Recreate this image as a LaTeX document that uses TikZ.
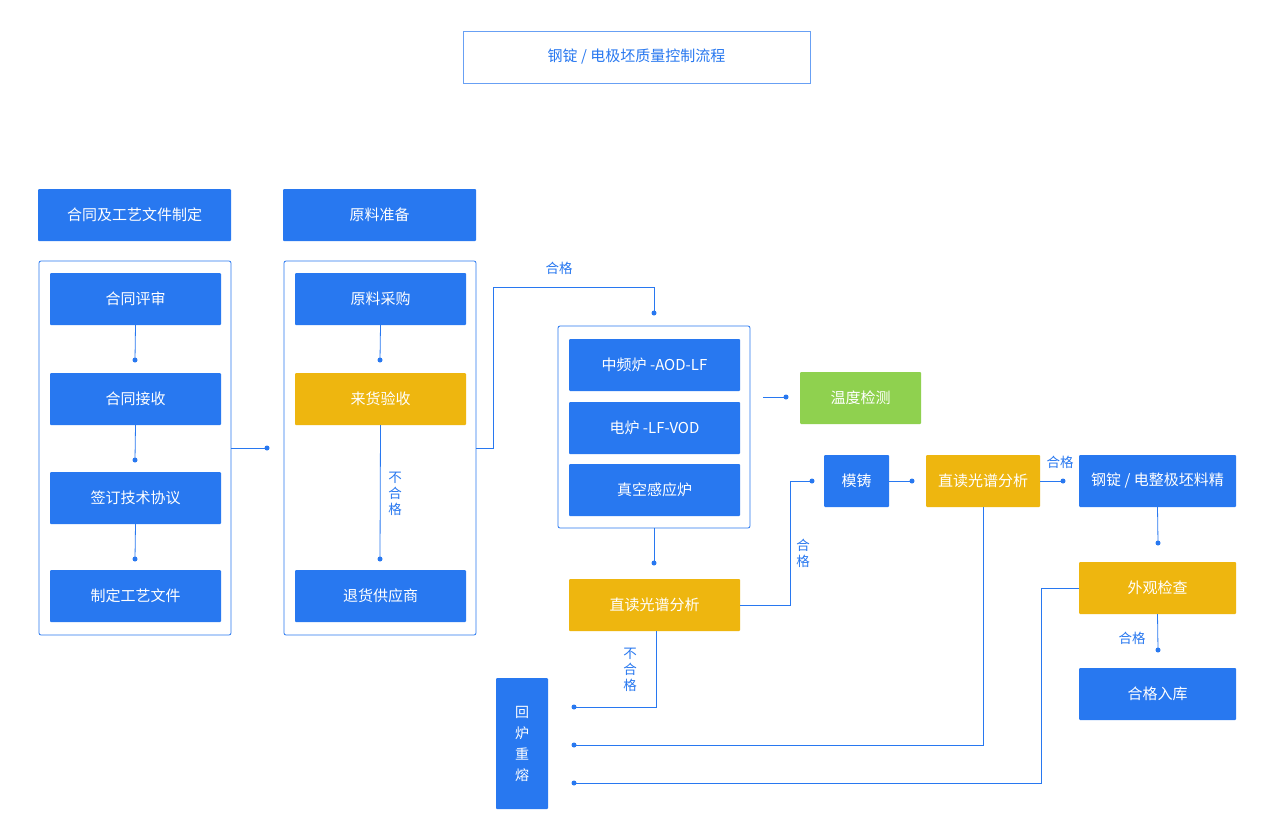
\documentclass[tikz,border=0pt]{standalone}
\usepackage{fontspec}
\setmainfont{Noto Sans CJK SC}
\begin{document}
\definecolor{bb}{HTML}{2878F0}
\definecolor{yy}{HTML}{EEB60F}
\definecolor{gg}{HTML}{8FD14F}
\begin{tikzpicture}[x=1pt,y=-1pt,
  box/.style={draw=none,fill=#1,text=white,font=\fontsize{15}{18}\selectfont,inner sep=0pt,rounded corners=1pt},
  outl/.style={draw=bb,line width=0.8pt,fill=white,rounded corners=2pt},
  ln/.style={draw=bb,line width=0.8pt},
  dot/.style={circle,fill=bb,inner sep=0pt,minimum size=5pt},
  lab/.style={text=bb,font=\fontsize{13.5}{16}\selectfont,align=center,inner sep=0pt}]
\useasboundingbox (0,0) rectangle (1274,833);
\fill[white] (0,0) rectangle (1274,833);
\newcommand{\bx}[6]{\node[box=#2,minimum width=#5-#3,minimum height=#6-#4,align=center] (#1) at ({(#3+#5)/2},{(#4+#6)/2}) {};}
% title
\node[draw=bb!70,line width=0.6pt,minimum width=347,minimum height=52,inner sep=0pt,text=bb,font=\fontsize{15}{18}\selectfont] (title) at (636.5,57) {钢锭 / 电极坯质量控制流程};
% headers
\node[box=bb,minimum width=193,minimum height=52] (h1) at (134.5,215) {合同及工艺文件制定};
\node[box=bb,minimum width=193,minimum height=52] (h2) at (379.5,215) {原料准备};
% outlines
\node[outl,minimum width=192,minimum height=374] (o1) at (135,448) {};
\node[outl,minimum width=192,minimum height=374] (o2) at (380,448) {};
\node[outl,minimum width=192,minimum height=202] (o3) at (654,427) {};
% column 1
\node[box=bb,minimum width=171,minimum height=52] (a1) at (135.5,299) {合同评审};
\node[box=bb,minimum width=171,minimum height=52] (a2) at (135.5,399) {合同接收};
\node[box=bb,minimum width=171,minimum height=52] (a3) at (135.5,498) {签订技术协议};
\node[box=bb,minimum width=171,minimum height=52] (a4) at (135.5,596) {制定工艺文件};
\coordinate (d1) at (135,360); \coordinate (d2) at (135,460); \coordinate (d3) at (135,559);
\draw[ln] (a1.south) -- (d1); \node[dot] at (d1) {};
\draw[ln] (a2.south) -- (d2); \node[dot] at (d2) {};
\draw[ln] (a3.south) -- (d3); \node[dot] at (d3) {};
\coordinate (d4) at (267,448);
\draw[ln] (o1.east) -- (d4); \node[dot] at (d4) {};
% column 2
\node[box=bb,minimum width=171,minimum height=52] (b1) at (380.5,299) {原料采购};
\node[box=yy,minimum width=171,minimum height=52] (b2) at (380.5,399) {来货验收};
\node[box=bb,minimum width=171,minimum height=52] (b3) at (380.5,596) {退货供应商};
\coordinate (e1) at (380,360); \coordinate (e2) at (380,559);
\draw[ln] (b1.south) -- (e1); \node[dot] at (e1) {};
\draw[ln] (b2.south) -- (e2); \node[dot] at (e2) {};
\node[lab] at (395,494) {不\\合\\格};
\coordinate (e3) at (654,313);
\draw[ln] (o2.east) -- (493,448) -- (493,287) -- (654,287) -- (e3); \node[dot] at (e3) {};
\node[lab] at (559,268) {合格};
% column 3
\node[box=bb,minimum width=171,minimum height=52] (c1) at (654.5,365) {中频炉 -AOD-LF};
\node[box=bb,minimum width=171,minimum height=52] (c2) at (654.5,428) {电炉 -LF-VOD};
\node[box=bb,minimum width=171,minimum height=52] (c3) at (654.5,490) {真空感应炉};
\node[box=gg,minimum width=121,minimum height=52] (t) at (860.5,398) {温度检测};
\coordinate (f0) at (763,397); \coordinate (f1) at (786,397);
\draw[ln] (f0) -- (f1); \node[dot] at (f1) {};
\coordinate (f2) at (654,563);
\draw[ln] (o3.south) -- (f2); \node[dot] at (f2) {};
\node[box=yy,minimum width=171,minimum height=52] (s1) at (654.5,605) {直读光谱分析};
\coordinate (f3) at (812,481);
\draw[ln] (s1.east) -- (790,605) -- (790,481) -- (f3); \node[dot] at (f3) {};
\node[lab] at (803,553) {合\\格};
\node[box=bb,minimum width=65,minimum height=52] (m) at (856.5,481) {模铸};
\coordinate (f4) at (912,481);
\draw[ln] (m.east) -- (f4); \node[dot] at (f4) {};
\node[box=yy,minimum width=114,minimum height=52] (s2) at (983,481) {直读光谱分析};
\coordinate (f5) at (1063,481);
\draw[ln] (s2.east) -- (f5); \node[dot] at (f5) {};
\node[lab] at (1060,462) {合格};
\node[box=bb,minimum width=157,minimum height=52] (g1) at (1157.5,481) {钢锭 / 电整极坯料精};
\coordinate (f6) at (1158,543);
\draw[ln] (g1.south) -- (f6); \node[dot] at (f6) {};
\node[box=yy,minimum width=157,minimum height=52] (g2) at (1157.5,588) {外观检查};
\coordinate (f7) at (1158,650);
\draw[ln] (g2.south) -- (f7); \node[dot] at (f7) {};
\node[lab] at (1132,638) {合格};
\node[box=bb,minimum width=157,minimum height=52] (g3) at (1157.5,694) {合格入库};
% remelt
\node[box=bb,minimum width=52,minimum height=131,align=center,font=\fontsize{14}{21}\selectfont] (r) at (522,743.5) {回\\炉\\重\\熔};
\coordinate (r1) at (574,707); \coordinate (r2) at (574,745); \coordinate (r3) at (574,783);
\draw[ln] (656,631) -- (656,707) -- (r1); \node[dot] at (r1) {};
\node[lab] at (630,670) {不\\合\\格};
\draw[ln] (s2.south) -- (983,745) -- (r2); \node[dot] at (r2) {};
\draw[ln] (g2.west) -- (1041,588) -- (1041,783) -- (r3); \node[dot] at (r3) {};
\end{tikzpicture}
\end{document}
